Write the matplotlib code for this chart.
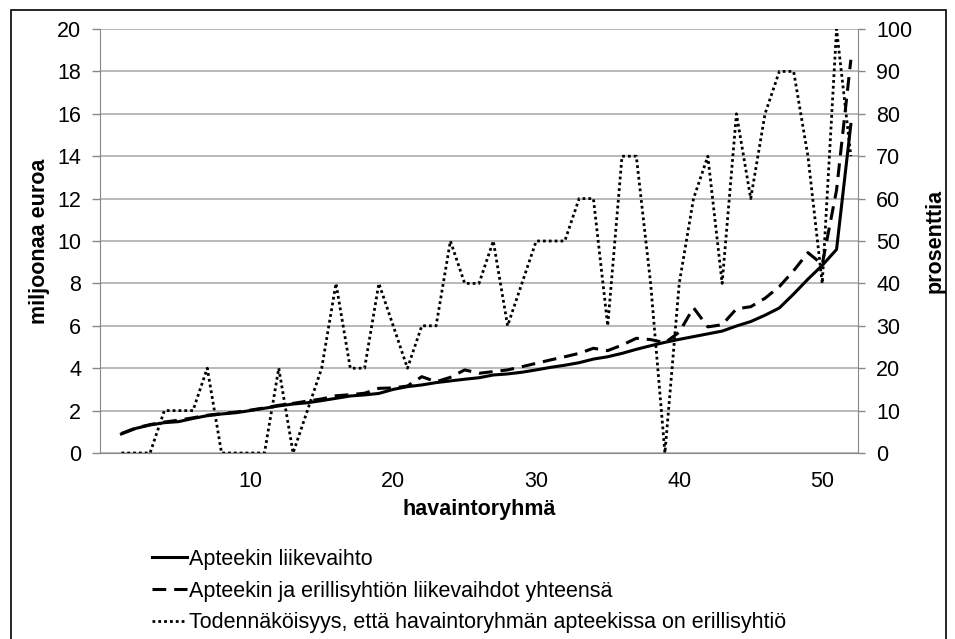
import matplotlib
matplotlib.use("Agg")
import matplotlib.pyplot as plt
from matplotlib.patches import Rectangle

plt.rcParams['font.family'] = ['Liberation Sans', 'DejaVu Sans']

# ---- data ----
groups = list(range(1, 53))
liikevaihto = [0.90, 1.16, 1.32, 1.43, 1.48, 1.63, 1.76, 1.84, 1.90, 2.00,
               2.11, 2.22, 2.31, 2.37, 2.47, 2.58, 2.69, 2.74, 2.81, 3.00,
               3.13, 3.21, 3.32, 3.40, 3.48, 3.55, 3.68, 3.73, 3.81, 3.92,
               4.04, 4.14, 4.26, 4.43, 4.54, 4.70, 4.89, 5.06, 5.22, 5.36,
               5.49, 5.62, 5.75, 5.99, 6.20, 6.50, 6.84, 7.50, 8.20, 8.85,
               9.60, 15.5]
yhteensa = [0.92, 1.18, 1.34, 1.46, 1.55, 1.66, 1.78, 1.86, 1.93, 2.02,
            2.13, 2.25, 2.34, 2.45, 2.55, 2.70, 2.75, 2.82, 3.05, 3.07,
            3.16, 3.60, 3.36, 3.57, 3.92, 3.76, 3.84, 3.92, 4.07, 4.23,
            4.39, 4.54, 4.70, 4.94, 4.83, 5.09, 5.41, 5.35, 5.20, 5.70,
            6.85, 5.95, 6.05, 6.80, 6.90, 7.30, 7.85, 8.60, 9.45, 8.90,
            12.4, 18.55]
todennakoisyys = [0, 0, 0, 10, 10, 10, 20, 0, 0, 0,
                  0, 20, 0, 10, 20, 40, 20, 20, 40, 30,
                  20, 30, 30, 50, 40, 40, 50, 30, 40, 50,
                  50, 50, 60, 60, 30, 70, 70, 40, 0, 40,
                  60, 70, 40, 80, 60, 80, 90, 90, 70, 40,
                  100, 70]
x_ticks = [10, 20, 30, 40, 50]
left_ticks = list(range(0, 21, 2))
right_ticks = list(range(0, 101, 10))
labels = ["Apteekin liikevaihto",
          "Apteekin ja erillisyhtiön liikevaihdot yhteensä",
          "Todennäköisyys, että havaintoryhmän apteekissa on erillisyhtiö"]

W, H = 955, 639
fig = plt.figure(figsize=(W / 100, H / 100), dpi=100)
ax = fig.add_axes([100 / W, 1 - 453 / H, 758 / W, 424 / H])
ax2 = ax.twinx()

grid_c = '#a6a6a6'
spine_c = '#888888'
fs = 15.5

l1, = ax.plot(groups, liikevaihto, color='black', lw=2.2, solid_joinstyle='round', zorder=3)
l2, = ax.plot(groups, yhteensa, color='black', lw=2.2, dashes=(4.5, 2.6), zorder=3)
l3, = ax2.plot(groups, todennakoisyys, color='black', lw=2.0, dashes=(1, 1.1), zorder=3)

ax.set_xlim(-0.5, 52.5)
ax.set_ylim(0, 20)
ax2.set_ylim(0, 100)
ax.set_xticks(x_ticks)
ax.set_yticks(left_ticks)
ax2.set_yticks(right_ticks)

ax.yaxis.grid(True, color=grid_c, lw=1.1)
ax.set_axisbelow(True)

for a in (ax, ax2):
    a.spines['top'].set_visible(False)
ax.spines['right'].set_visible(False)
ax.spines['left'].set_color(spine_c)
ax.spines['bottom'].set_color(spine_c)
ax2.spines['left'].set_visible(False)
ax2.spines['bottom'].set_visible(False)
ax2.spines['right'].set_color(spine_c)

ax.tick_params(axis='y', direction='out', length=5.5, width=1, color=spine_c,
               labelsize=fs, pad=8)
ax.tick_params(axis='x', length=0, labelsize=fs, pad=13)
ax2.tick_params(axis='y', direction='out', length=5, width=1, color=spine_c,
                labelsize=fs, pad=8)

ax.set_ylabel('miljoonaa euroa', fontsize=fs, fontweight='bold', va='center')
ax.yaxis.set_label_coords((40 - 100) / 758, 0.5)
ax2.set_ylabel('prosenttia', fontsize=fs, fontweight='bold', rotation=90, va='center')
ax2.yaxis.set_label_coords((935 - 100) / 758, 0.5)
ax.set_xlabel('havaintoryhmä', fontsize=fs, fontweight='bold')
ax.xaxis.set_label_coords(0.5, (453 - 510) / 424)
ax.xaxis.label.set_va('center')

fig.legend([l1, l2, l3], labels, loc='upper left',
           bbox_to_anchor=(152 / W, 1 - 549 / H), frameon=False, fontsize=fs,
           handlelength=1.63, handletextpad=0.1, labelspacing=0.49,
           borderpad=0, borderaxespad=0)

fig.patches.append(Rectangle((11 / W, -0.02), (946 - 11) / W, 1.02 - 10 / H,
                             transform=fig.transFigure, fill=False,
                             edgecolor='black', lw=1.2))

fig.savefig('out.png', dpi=100)
